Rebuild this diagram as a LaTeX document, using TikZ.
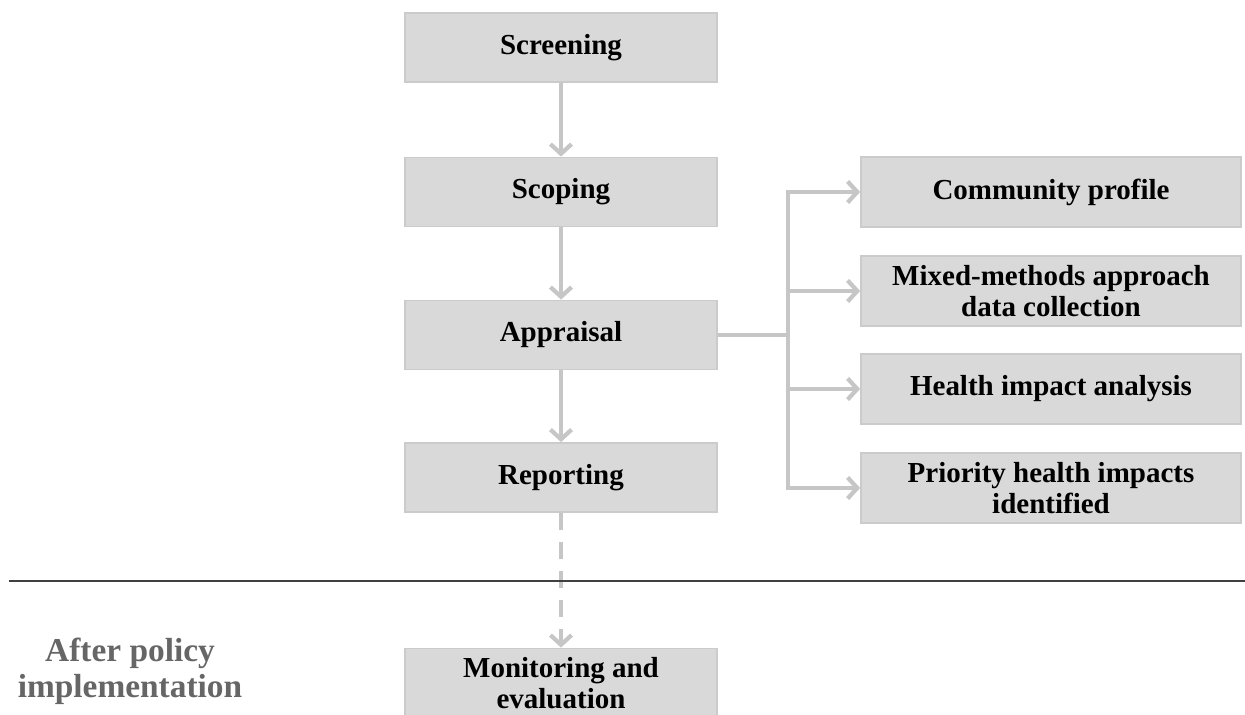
\documentclass[tikz,border=0pt]{standalone}
\usepackage{fontspec}
\setmainfont{Liberation Serif}
\usepackage{xcolor}
\usepackage{tikz}
\usetikzlibrary{arrows.meta}

\definecolor{boxgray}{HTML}{D9D9D9}
\definecolor{edgegray}{HTML}{CBCBCB}
\definecolor{arrgray}{HTML}{C6C6C6}
\definecolor{labelgray}{HTML}{666666}

\tikzset{
  stage/.style={draw=edgegray,line width=1pt,fill=boxgray,minimum width=6.24cm,
    minimum height=1.38cm,align=center,font=\fontsize{16.5}{18}\selectfont\bfseries},
  task/.style={stage,minimum width=7.6cm,minimum height=1.4cm},
  flow/.style={draw=arrgray,line width=2.4pt,-{Straight Barb[length=5.5pt,width=12pt,line width=2.4pt]}},
}

\begin{document}
\begin{tikzpicture}[x=0.02cm,y=-0.02cm]

    \useasboundingbox (0,0) rectangle (1245,715);
          % Keeps the page at the size of the original picture

    % main stages, one under the other
    \node[stage] (screen) at (561,47.5) {Screening};
    \node[stage] (scope) at (561,192) {Scoping};
    \node[stage] (appr) at (561,335) {Appraisal};
    \node[stage] (report) at (561,477.5) {Reporting};
    \node[stage] (monitor) at (561,683) {Monitoring and\\evaluation};

    % tasks of the appraisal
    \node[task] (comm) at (1051,192) {Community profile};
    \node[task] (mixed) at (1051,291) {Mixed-methods approach\\data collection};
    \node[task] (health) at (1051,389) {Health impact analysis};
    \node[task] (prior) at (1051,488) {Priority health impacts\\identified};

    \draw[flow] (screen) -- (scope);
    \draw[flow] (scope) -- (appr);
    \draw[flow] (appr) -- (report);
    \draw[flow,dashed,dash pattern=on 9.5pt off 7pt] (report) -- (monitor);

    % the fork towards the four tasks
    \coordinate (fork) at (788,335);
    \draw[draw=arrgray,line width=2.4pt] (appr.east) -- (fork);
    \foreach \t in {comm,mixed,health,prior}{%
      \draw[flow] (fork) |- (\t.west);
    }

    % line between the two phases
    \coordinate (sepL) at (9,581);
    \coordinate (sepR) at (1245,581);
    \draw[line width=0.9pt,color=black!75] (sepL) -- (sepR);

    \node[align=center,text=labelgray,font=\fontsize{19}{20.5}\selectfont\bfseries] (after) at (130,671)
      {After policy\\implementation};

\end{tikzpicture}
\end{document}
